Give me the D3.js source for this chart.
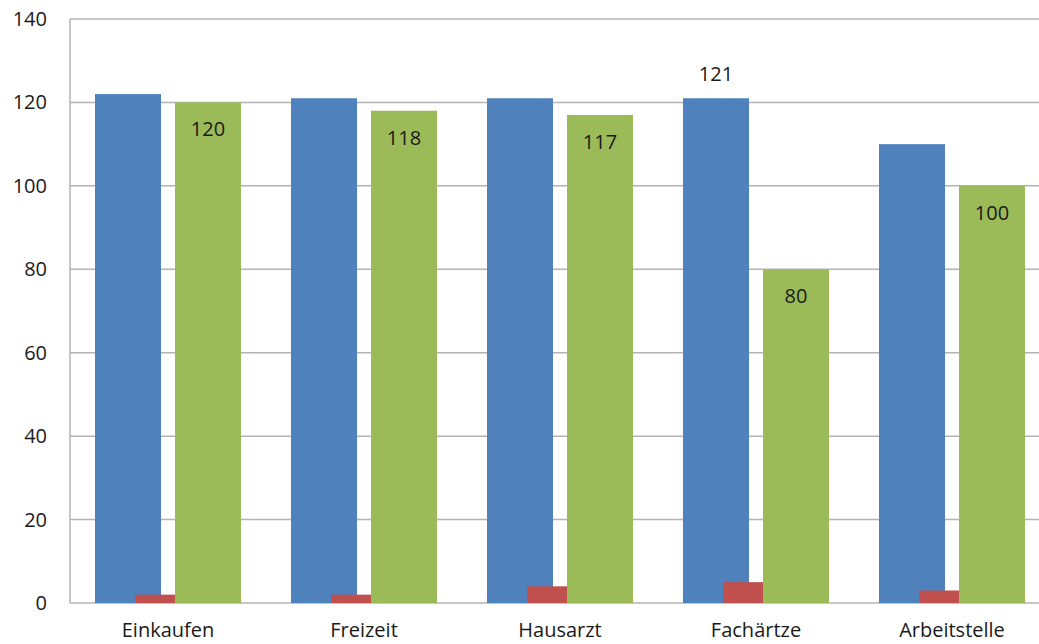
<!doctype html>
<html>
<head>
<meta charset="utf-8">
<script src="https://cdnjs.cloudflare.com/ajax/libs/d3/7.8.5/d3.min.js"></script>
<style>
  body { margin: 0; background: #fff; }
  svg { display: block; font-family: "Open Sans", "Noto Sans", sans-serif; }
</style>
</head>
<body>
<svg id="chart" width="1039" height="644"></svg>
<script>
var categories = ["Einkaufen", "Freizeit", "Hausarzt", "Fachärtze", "Arbeitstelle"];
var blueValues = [122, 121, 121, 121, 110];
var redValues = [2, 2, 4, 5, 3];
var greenValues = [120, 118, 117, 80, 100];
var yTicks = [0, 20, 40, 60, 80, 100, 120, 140];

var svg = d3.select("#chart");
var plotLeft = 70, plotRight = 1050, plotTop = 19, plotBottom = 603;

var x = d3.scaleBand().domain(categories).range([plotLeft, plotRight]);
var y = d3.scaleLinear().domain([0, 140]).range([plotBottom, plotTop]);

// grid
svg.append("g")
  .selectAll("line")
  .data(yTicks)
  .enter()
  .append("line")
  .attr("x1", plotLeft)
  .attr("x2", 1039)
  .attr("y1", d => y(d))
  .attr("y2", d => y(d))
  .attr("stroke", "#b3b3b3")
  .attr("stroke-width", 1.5);

svg.append("line")
  .attr("x1", plotLeft).attr("x2", plotLeft)
  .attr("y1", plotTop).attr("y2", plotBottom)
  .attr("stroke", "#b3b3b3")
  .attr("stroke-width", 1.5);

// y labels
svg.append("g")
  .selectAll("text")
  .data(yTicks)
  .enter()
  .append("text")
  .attr("x", 47)
  .attr("y", d => y(d))
  .attr("dy", "0.35em")
  .attr("text-anchor", "end")
  .attr("font-size", "20px")
  .attr("fill", "#1a1a1a")
  .text(d => d);

// x labels
svg.append("g")
  .selectAll("text")
  .data(categories)
  .enter()
  .append("text")
  .attr("x", d => x(d) + x.bandwidth() / 2)
  .attr("y", 630)
  .attr("dy", "0.35em")
  .attr("text-anchor", "middle")
  .attr("font-size", "20px")
  .attr("fill", "#1a1a1a")
  .text(d => d);

// bars: blue, red, green overlapping
var barW = x.bandwidth() * 66 / 196;
var step = x.bandwidth() * 40 / 196;
var series = [
  {values: blueValues, color: "#4F81BD"},
  {values: redValues, color: "#C0504D"},
  {values: greenValues, color: "#9BBB59"}
];
var clusterW = barW + 2 * step;

series.forEach(function(s, i) {
  svg.append("g")
    .selectAll("rect")
    .data(categories)
    .enter()
    .append("rect")
    .attr("x", (d) => x(d) + (x.bandwidth() - clusterW) / 2 + i * step)
    .attr("y", (d, j) => y(s.values[j]))
    .attr("width", barW)
    .attr("height", (d, j) => y(0) - y(s.values[j]))
    .attr("fill", s.color);
});

// green value labels inside bar top
svg.append("g")
  .selectAll("text")
  .data(categories)
  .enter()
  .append("text")
  .attr("x", d => x(d) + (x.bandwidth() - clusterW) / 2 + 2 * step + barW / 2)
  .attr("y", (d, j) => y(greenValues[j]) + 27)
  .attr("dy", "0.35em")
  .attr("text-anchor", "middle")
  .attr("font-size", "20px")
  .attr("fill", "#1a1a1a")
  .text((d, j) => greenValues[j]);

// single label above Fachärtze blue bar
var fi = 3;
svg.append("text")
  .attr("x", x(categories[fi]) + (x.bandwidth() - clusterW) / 2 + barW / 2)
  .attr("y", y(blueValues[fi]) - 24)
  .attr("dy", "0.35em")
  .attr("text-anchor", "middle")
  .attr("font-size", "20px")
  .attr("fill", "#1a1a1a")
  .text(blueValues[fi]);
</script>
</body>
</html>
